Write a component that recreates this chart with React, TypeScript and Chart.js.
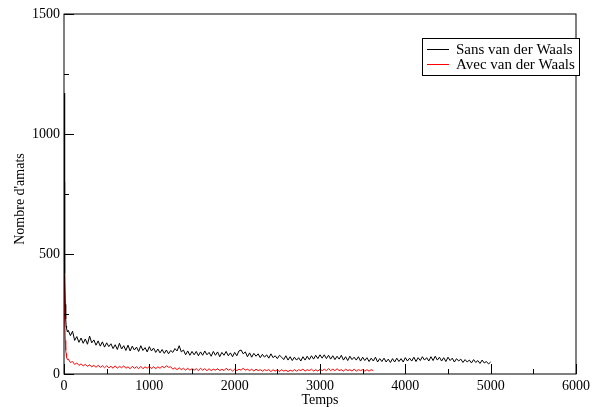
import React, { useEffect, useRef } from "react";
import { Chart, registerables } from "chart.js";

Chart.register(...registerables);

// Time sampling
const HEAD_TIMES = [0, 5, 10, 15, 20, 25, 30, 40];
const STEP = 25;
const BODY_START = 50;

// "Sans van der Waals" (black)
const blackHead = [1170, 700, 420, 290, 230, 200, 190, 175];
const blackBody = [
  182, 160, 178, 140, 156, 132, 150, 128, 146, 124, 158, 130, 142, 120, 138, 116, 134, 112, 130, 114,
  126, 106, 122, 102, 128, 104, 118, 98, 120, 96, 116, 100, 112, 94, 118, 98, 110, 92, 114, 96,
  108, 90, 104, 88, 102, 86, 100, 84, 98, 90, 106, 96, 118, 92, 100, 80, 96, 78, 94, 80,
  94, 76, 92, 78, 96, 80, 90, 74, 94, 78, 92, 72, 90, 78, 94, 76, 88, 72, 90, 76,
  96, 100, 84, 92, 72, 88, 70, 86, 74, 84, 68, 82, 70, 80, 66, 84, 68, 76, 64, 78,
  70, 60, 76, 58, 72, 56, 70, 58, 68, 54, 72, 58, 74, 60, 76, 62, 78, 64, 80, 66,
  80, 64, 78, 62, 76, 60, 74, 62, 78, 58, 72, 56, 74, 60, 70, 58, 72, 54, 70, 56,
  68, 52, 66, 54, 70, 50, 64, 52, 66, 50, 62, 48, 64, 50, 66, 52, 64, 50, 68, 54,
  66, 54, 70, 52, 68, 56, 72, 58, 68, 54, 72, 56, 74, 58, 70, 54, 68, 52, 70, 56,
  66, 50, 64, 54, 62, 48, 60, 50, 58, 46, 60, 48, 56, 44, 58, 46, 52, 42, 50,
];

// "Avec van der Waals" (red)
const redHead = [800, 450, 230, 140, 100, 85, 70, 60];
const redBody = [
  62, 48, 52, 40, 46, 36, 42, 34, 40, 32, 38, 30, 36, 28, 36, 28, 34, 26, 34, 26,
  32, 24, 34, 24, 32, 26, 34, 24, 30, 22, 32, 24, 30, 22, 32, 22, 30, 24, 32, 22,
  30, 22, 30, 24, 32, 26, 34, 28, 30, 20, 26, 18, 26, 18, 24, 16, 24, 16, 22, 16,
  22, 14, 24, 16, 22, 14, 22, 14, 20, 16, 22, 14, 20, 14, 24, 16, 20, 12, 20, 14,
  20, 16, 24, 16, 20, 14, 20, 12, 20, 14, 18, 12, 18, 14, 18, 10, 18, 12, 18, 10,
  18, 12, 16, 10, 16, 12, 18, 12, 18, 14, 20, 12, 18, 14, 20, 12, 18, 12, 20, 14,
  20, 14, 22, 14, 20, 14, 22, 14, 18, 12, 20, 14, 18, 12, 20, 12, 18, 14, 18, 12,
  18, 12, 18, 14,
];

const SERIES_LABELS = ["Sans van der Waals", "Avec van der Waals"];
const SERIES_COLORS = ["#000000", "#ff0000"];
const X_TITLE = "Temps";
const Y_TITLE = "Nombre d'amats";

const toPoints = (head: number[], body: number[]) => [
  ...head.map((y, i) => ({ x: HEAD_TIMES[i], y })),
  ...body.map((y, i) => ({ x: BODY_START + i * STEP, y })),
];

const FONT = "Liberation Serif, Times New Roman, serif";

const framePlugin = {
  id: "frame",
  afterDraw(chart: any) {
    const { ctx, chartArea } = chart;
    const xs = chart.scales.x;
    const ys = chart.scales.y;
    const { left, right, top, bottom } = chartArea;
    ctx.save();
    ctx.strokeStyle = "#000";
    ctx.lineWidth = 1;
    ctx.strokeRect(left, top, right - left, bottom - top);
    ctx.beginPath();
    for (let v = 0; v <= 6000; v += 500) {
      const px = Math.round(xs.getPixelForValue(v)) + 0.5;
      const len = v % 1000 === 0 ? 10 : 5;
      ctx.moveTo(px, bottom);
      ctx.lineTo(px, bottom - len);
    }
    for (let v = 0; v <= 1500; v += 250) {
      const py = Math.round(ys.getPixelForValue(v)) + 0.5;
      const len = v % 500 === 0 ? 10 : 5;
      ctx.moveTo(left, py);
      ctx.lineTo(left + len, py);
    }
    ctx.stroke();

    // y-axis title
    ctx.save();
    ctx.translate(20, 199);
    ctx.rotate(-Math.PI / 2);
    ctx.font = `14px ${FONT}`;
    ctx.fillStyle = "#000";
    ctx.textAlign = "center";
    ctx.textBaseline = "middle";
    ctx.fillText(Y_TITLE, 0, 0);
    ctx.restore();

    // legend
    const bx = 422.5, by = 38.5, bw = 157, bh = 37;
    ctx.fillStyle = "#fff";
    ctx.fillRect(bx, by, bw, bh);
    ctx.strokeStyle = "#000";
    ctx.strokeRect(bx, by, bw, bh);
    ctx.font = `15px ${FONT}`;
    ctx.textBaseline = "middle";
    ctx.textAlign = "left";
    const rows = [49.5, 64.5];
    chart.data.datasets.forEach((ds: any, i: number) => {
      ctx.strokeStyle = ds.borderColor;
      ctx.beginPath();
      ctx.moveTo(427, rows[i]);
      ctx.lineTo(449, rows[i]);
      ctx.stroke();
      ctx.fillStyle = "#000";
      ctx.fillText(ds.label, 456, rows[i] + 1);
    });
    ctx.restore();
  },
};

export default function App() {
  const ref = useRef<HTMLCanvasElement | null>(null);
  useEffect(() => {
    document.body.style.margin = "0";
    const canvas = ref.current!;
    const chart = new Chart(canvas, {
      type: "line",
      data: {
        datasets: [
          {
            label: SERIES_LABELS[0],
            data: toPoints(blackHead, blackBody),
            borderColor: SERIES_COLORS[0],
            borderWidth: 1,
            pointRadius: 0,
            tension: 0,
          },
          {
            label: SERIES_LABELS[1],
            data: toPoints(redHead, redBody),
            borderColor: SERIES_COLORS[1],
            borderWidth: 1,
            pointRadius: 0,
            tension: 0,
          },
        ],
      },
      options: {
        animation: false,
        responsive: false,
        devicePixelRatio: 1,
        layout: { padding: { left: 0, right: 19, top: 14, bottom: 0 } },
        plugins: { legend: { display: false }, tooltip: { enabled: false } },
        scales: {
          x: {
            type: "linear",
            min: 0,
            max: 6000,
            grid: { display: false, drawTicks: false },
            border: { display: false },
            ticks: {
              stepSize: 1000,
              padding: 4,
              color: "#000",
              font: { family: FONT, size: 14 },
              maxRotation: 0,
              callback: (v: any) => String(v),
            },
            title: {
              display: true,
              text: X_TITLE,
              color: "#000",
              font: { family: FONT, size: 14, lineHeight: 1 },
              padding: { top: 0, bottom: 0 },
            },
            afterFit: (s: any) => {
              s.height = 33;
            },
          },
          y: {
            type: "linear",
            min: 0,
            max: 1500,
            grid: { display: false, drawTicks: false },
            border: { display: false },
            ticks: {
              stepSize: 500,
              padding: 4,
              color: "#000",
              font: { family: FONT, size: 14 },
              callback: (v: any) => String(v),
            },
            title: { display: false },
            afterFit: (s: any) => {
              s.width = 64;
            },
          },
        },
      },
      plugins: [framePlugin],
    });
    return () => chart.destroy();
  }, []);
  return (
    <div style={{ position: "absolute", left: 0, top: 0, width: 595, height: 407 }}>
      <canvas ref={ref} width={595} height={407} style={{ display: "block" }} />
    </div>
  );
}
